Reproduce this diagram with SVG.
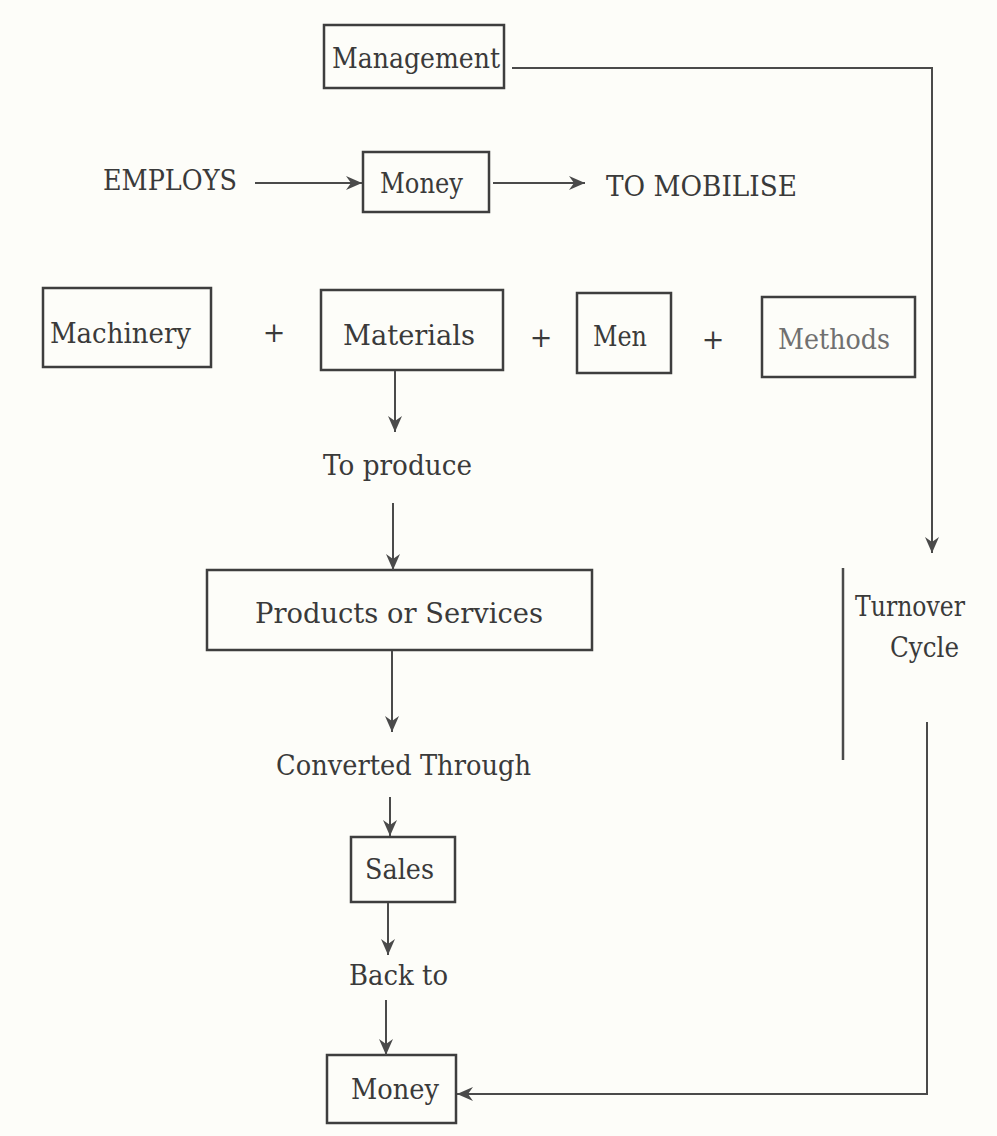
<svg xmlns="http://www.w3.org/2000/svg" width="997" height="1136" viewBox="0 0 997 1136">
<style>
.box{fill:none;stroke:#3e3e3e;stroke-width:2.5}
.lbl{font-family:"DejaVu Serif","Liberation Serif",serif;font-size:27px;fill:#3a3a3a}
.light{fill:#707070}
.con{fill:none;stroke:#4a4a4a;stroke-width:2}
.bar{stroke:#4a4a4a;stroke-width:2.5}
</style>
<defs>
<marker id="ah" markerUnits="userSpaceOnUse" markerWidth="18" markerHeight="16" refX="16" refY="7" orient="auto">
<path d="M0,0 L16,7 L0,14 L5,7 z" fill="#4a4a4a"/>
</marker>
</defs>
<rect width="997" height="1136" fill="#fdfdf9"/>

<g id="management">
<rect class="box" x="324" y="25" width="180" height="63"/>
<text class="lbl" x="332" y="68" textLength="168" lengthAdjust="spacingAndGlyphs">Management</text>
</g>
<g id="employs">
<text class="lbl" x="103" y="190" textLength="134" lengthAdjust="spacingAndGlyphs">EMPLOYS</text>
</g>
<g id="money-top">
<rect class="box" x="363" y="152" width="126" height="60"/>
<text class="lbl" x="380" y="193" textLength="83" lengthAdjust="spacingAndGlyphs">Money</text>
</g>
<g id="to-mobilise">
<text class="lbl" x="606" y="196" textLength="191" lengthAdjust="spacingAndGlyphs">TO MOBILISE</text>
</g>
<g id="machinery">
<rect class="box" x="43" y="288" width="168" height="79"/>
<text class="lbl" x="50" y="343" textLength="141" lengthAdjust="spacingAndGlyphs">Machinery</text>
</g>
<g id="plus1"><text class="lbl" x="274" y="342" text-anchor="middle">+</text></g>
<g id="materials">
<rect class="box" x="321" y="290" width="182" height="80"/>
<text class="lbl" x="343" y="345" textLength="132" lengthAdjust="spacingAndGlyphs">Materials</text>
</g>
<g id="plus2"><text class="lbl" x="541" y="347" text-anchor="middle">+</text></g>
<g id="men">
<rect class="box" x="577" y="293" width="94" height="80"/>
<text class="lbl" x="593" y="346" textLength="54" lengthAdjust="spacingAndGlyphs">Men</text>
</g>
<g id="plus3"><text class="lbl" x="713" y="349" text-anchor="middle">+</text></g>
<g id="methods">
<rect class="box" x="762" y="297" width="153" height="80"/>
<text class="lbl light" x="778" y="349" textLength="112" lengthAdjust="spacingAndGlyphs">Methods</text>
</g>
<g id="to-produce">
<text class="lbl" x="323" y="475" textLength="149" lengthAdjust="spacingAndGlyphs">To produce</text>
</g>
<g id="products">
<rect class="box" x="207" y="570" width="385" height="80"/>
<text class="lbl" x="255" y="623" textLength="288" lengthAdjust="spacingAndGlyphs">Products or Services</text>
</g>
<g id="converted">
<text class="lbl" x="276" y="775" textLength="255" lengthAdjust="spacingAndGlyphs">Converted Through</text>
</g>
<g id="sales">
<rect class="box" x="351" y="837" width="104" height="65"/>
<text class="lbl" x="365" y="879" textLength="69" lengthAdjust="spacingAndGlyphs">Sales</text>
</g>
<g id="back-to">
<text class="lbl" x="349" y="985" textLength="99" lengthAdjust="spacingAndGlyphs">Back to</text>
</g>
<g id="money-bottom">
<rect class="box" x="327" y="1055" width="129" height="68"/>
<text class="lbl" x="351" y="1099" textLength="88" lengthAdjust="spacingAndGlyphs">Money</text>
</g>
<g id="turnover-cycle">
<line class="bar" x1="843" y1="568" x2="843" y2="760"/>
<text class="lbl" x="855" y="616" textLength="110" lengthAdjust="spacingAndGlyphs">Turnover</text>
<text class="lbl" x="890" y="657" textLength="69" lengthAdjust="spacingAndGlyphs">Cycle</text>
</g>

<g id="connectors">
<path class="con" d="M512,68 H932 V553" marker-end="url(#ah)"/>
<path class="con" d="M255,183 H362" marker-end="url(#ah)"/>
<path class="con" d="M493,183 H585" marker-end="url(#ah)"/>
<path class="con" d="M395,371 V432" marker-end="url(#ah)"/>
<path class="con" d="M393,503 V570" marker-end="url(#ah)"/>
<path class="con" d="M392,651 V732" marker-end="url(#ah)"/>
<path class="con" d="M390,797 V836" marker-end="url(#ah)"/>
<path class="con" d="M388,903 V955" marker-end="url(#ah)"/>
<path class="con" d="M386,1000 V1055" marker-end="url(#ah)"/>
<path class="con" d="M927,722 V1094 H457" marker-end="url(#ah)"/>
</g>
</svg>
